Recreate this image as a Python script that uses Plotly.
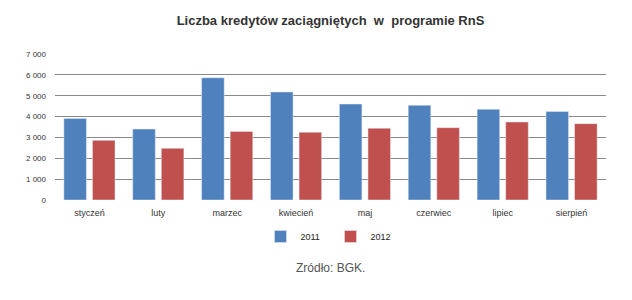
import plotly.graph_objects as go

months = ["styczeń", "luty", "marzec", "kwiecień", "maj", "czerwiec", "lipiec", "sierpień"]
v2011 = [3910, 3400, 5860, 5180, 4600, 4540, 4350, 4240]
v2012 = [2860, 2480, 3290, 3250, 3440, 3470, 3740, 3660]
yticks = [0, 1000, 2000, 3000, 4000, 5000, 6000, 7000]

fig = go.Figure()
fig.add_trace(go.Bar(x=months, y=v2011, name="2011", marker_color="#4F81BD"))
fig.add_trace(go.Bar(x=months, y=v2012, name="2012", marker_color="#C0504D"))

fig.update_layout(
    width=632, height=300,
    margin=dict(l=55, r=26, t=54, b=100),
    paper_bgcolor="white", plot_bgcolor="white",
    separators=", ",
    barmode="group", bargap=0.17, bargroupgap=0.21,
    font=dict(family="Liberation Sans, Arial, sans-serif", size=9, color="#333333"),
    title=dict(
        text="<b>Liczba kredytów zaciągniętych  w  programie RnS</b>",
        x=0.5, xanchor="center", xref="paper", y=1 - 20 / 300, yanchor="middle",
        font=dict(family="Liberation Sans Narrow, Arial Narrow, Liberation Sans", size=13, color="#333333"),
    ),
    showlegend=True,
    legend=dict(orientation="h", x=0.5, xanchor="center", y=-0.25, yanchor="middle",
                font=dict(size=9, color="#222222"), itemwidth=30, traceorder="normal",
                entrywidth=25, entrywidthmode="pixels"),
    xaxis=dict(showgrid=False, showline=False, ticks="", ticklabelstandoff=6,
               tickfont=dict(size=9, color="#333333")),
    yaxis=dict(range=[0, 7000], tickvals=yticks, tickformat=",d", showgrid=True,
               gridcolor="#8a8a8a", gridwidth=1, zeroline=False, showline=False,
               ticks="", ticklabelstandoff=8, tickfont=dict(size=8, color="#333333")),
    annotations=[dict(text="Zródło: BGK.", x=0.5, xref="paper", y=-0.466, yref="paper",
                      xanchor="center", yanchor="middle", showarrow=False,
                      font=dict(family="Liberation Sans, Arial", size=12, color="#555555"))],
)

fig.write_html("out.html")
